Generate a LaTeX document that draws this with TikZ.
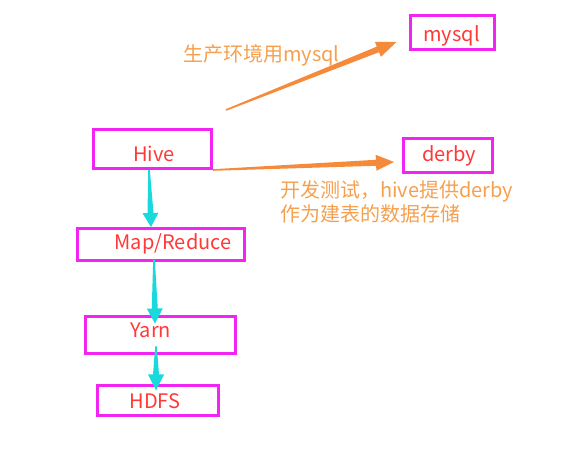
\documentclass[tikz,border=0pt]{standalone}
\usepackage{fontspec}
\setmainfont{Noto Sans CJK SC}
\usetikzlibrary{calc, positioning}

\definecolor{boxpink}{HTML}{F224F2}
\definecolor{boxred}{HTML}{FF3838}
\definecolor{noteorange}{HTML}{F5A04E}
\definecolor{arroworange}{HTML}{F58A3A}
\definecolor{flowcyan}{HTML}{19D9DC}

% tapered arrow: colour, from, to, half width at head, head half width, head length
\newcommand{\wedgearrow}[6]{%
  \fill[#1] let \p1=(#2), \p2=(#3), \n1={atan2(\y2-\y1,\x2-\x1)} in
    ($(\p1)+(\n1+90:0.8)$) -- ($(\p2)+(\n1+180:#6)+(\n1+90:#4)$)
    -- ($(\p2)+(\n1+180:#6)+(\n1+90:#5)$) -- (\p2)
    -- ($(\p2)+(\n1+180:#6)+(\n1-90:#5)$) -- ($(\p2)+(\n1+180:#6)+(\n1-90:#4)$)
    -- ($(\p1)+(\n1-90:0.8)$) -- cycle;}

\begin{document}
\begin{tikzpicture}[x=1bp, y=1bp,
    box/.style={draw=boxpink, line width=3bp, minimum width=#1, inner sep=0pt},
    lbl/.style={text=boxred, font=\fontsize{20bp}{24bp}\selectfont, anchor=base, inner sep=0pt},
    note/.style={text=noteorange, font=\fontsize{20bp}{24bp}\selectfont, anchor=base west, inner sep=0pt}]
        \useasboundingbox (0,0) rectangle (576,454);

        % Vẽ các hộp
        \node[box=84bp, minimum height=34bp] (mysql) at (452.5,421.5) {};
        \node[box=118bp, minimum height=39bp] (hive) at (152.5,305) {};
        \node[box=89bp, minimum height=34bp] (derby) at (448,298.5) {};
        \node[box=167bp, minimum height=32bp] (mr) at (161,209.5) {};
        \node[box=150bp, minimum height=37bp] (yarn) at (160.5,119) {};
        \node[box=121bp, minimum height=30bp] (hdfs) at (158,53.5) {};

        \node[lbl] (mysqltext) at (451.5,412) {mysql};
        \node[lbl] (hivetext) at (154,292) {Hive};
        \node[lbl] (derbytext) at (449,292) {derby};
        \node[lbl] (mrtext) at (173,204) {Map/Reduce};
        \node[lbl] (yarntext) at (151,116) {Yarn};
        \node[lbl] (hdfstext) at (155,45) {HDFS};

        % Vẽ chú thích
        \node[note] (prodnote) at (183,392) {生产环境用mysql};
        \node[note] (devnote) at (280,256) {开发测试，hive提供derby};
        \node[note] (devnotetwo) at (280,232) {作为建表的数据存储};

        % Vẽ mũi tên
        \coordinate (prodfrom) at (226,344);
        \wedgearrow{arroworange}{prodfrom}{[xshift=-12.5bp,yshift=-9.5bp]mysql.west}{3}{8}{20}
        \wedgearrow{arroworange}{hive.south east}{[xshift=-8bp,yshift=-6.5bp]derby.west}{3}{8}{18}

        \wedgearrow{flowcyan}{[xshift=-3.5bp]hive.south}{[xshift=-10bp]mr.north}{3}{8}{14}
        \wedgearrow{flowcyan}{[xshift=-7bp,yshift=2.5bp]mr.south}{[xshift=-5.5bp,yshift=-8.5bp]yarn.north}{3}{8}{15}
        \wedgearrow{flowcyan}{[xshift=-4.5bp,yshift=8.5bp]yarn.south}{[xshift=-2bp,yshift=-6.5bp]hdfs.north}{3}{8}{16}
    \end{tikzpicture}
\end{document}
